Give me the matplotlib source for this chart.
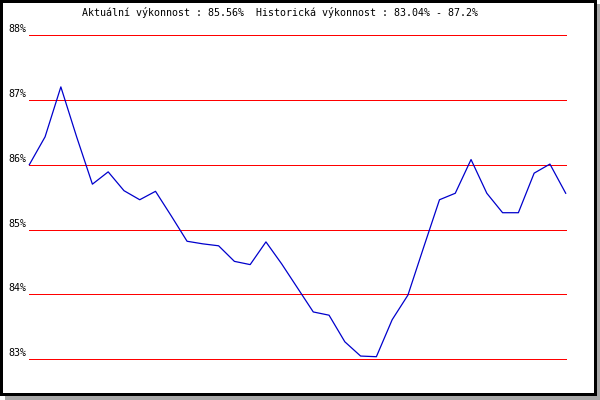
import matplotlib

matplotlib.use("Agg")
import matplotlib.pyplot as plt
from matplotlib.patches import Rectangle

# hodnoty výkonnosti (%) po jednotlivých bodech
values = [86.00, 86.43, 87.20, 86.43, 85.70, 85.89, 85.60, 85.46, 85.59, 85.21,
          84.82, 84.78, 84.75, 84.51, 84.46, 84.81, 84.47, 84.10, 83.73, 83.68,
          83.27, 83.05, 83.04, 83.61, 83.99, 84.73, 85.46, 85.56, 86.08, 85.56,
          85.26, 85.26, 85.87, 86.01, 85.56]
levels = [83, 84, 85, 86, 87, 88]
level_labels = ["83%", "84%", "85%", "86%", "87%", "88%"]
title = "Aktuální výkonnost : 85.56%  Historická výkonnost : 83.04% - 87.2%"

W, H = 600, 400
fig = plt.figure(figsize=(W / 100, H / 100), dpi=100)
fig.patch.set_facecolor("white")


def px_rect(x0, y0, x1, y1, color):
    """Obdélník v pixelech (počátek vlevo nahoře)."""
    fig.add_artist(Rectangle((x0 / W, 1 - y1 / H), (x1 - x0) / W, (y1 - y0) / H,
                             transform=fig.transFigure, facecolor=color,
                             edgecolor="none"))


# rámeček se stínem
px_rect(597, 4, 600, 400, "#a8a8a8")
px_rect(5, 396, 600, 400, "#a8a8a8")
px_rect(0, 0, 597, 3, "black")
px_rect(0, 393, 597, 396, "black")
px_rect(0, 0, 3, 396, "black")
px_rect(594, 0, 597, 396, "black")

left, right = 29.3, 565.7
top, bottom = 35.0, 359.3
ax = fig.add_axes([left / W, 1 - bottom / H, (right - left) / W, (bottom - top) / H])
ax.axis("off")
ax.set_xlim(0, len(values) - 1)
ax.set_ylim(83, 88)

font = {"family": "DejaVu Sans Mono", "size": 7.2, "color": "black"}

for lv, lab in zip(levels, level_labels):
    ax.axhline(lv, color="#ff0000", lw=0.72, zorder=1, clip_on=False)
    ax.annotate(lab, xy=(0, lv), xycoords=("axes fraction", "data"),
                xytext=(-3, 6), textcoords="offset pixels",
                ha="right", va="center", **font)

ax.plot(range(len(values)), values, color="#0000cc", lw=0.9,
        zorder=3, clip_on=False)

fig.text(280.5 / W, 1 - 13 / H, title, ha="center", va="center", **font)

fig.savefig("out.png", dpi=100)
